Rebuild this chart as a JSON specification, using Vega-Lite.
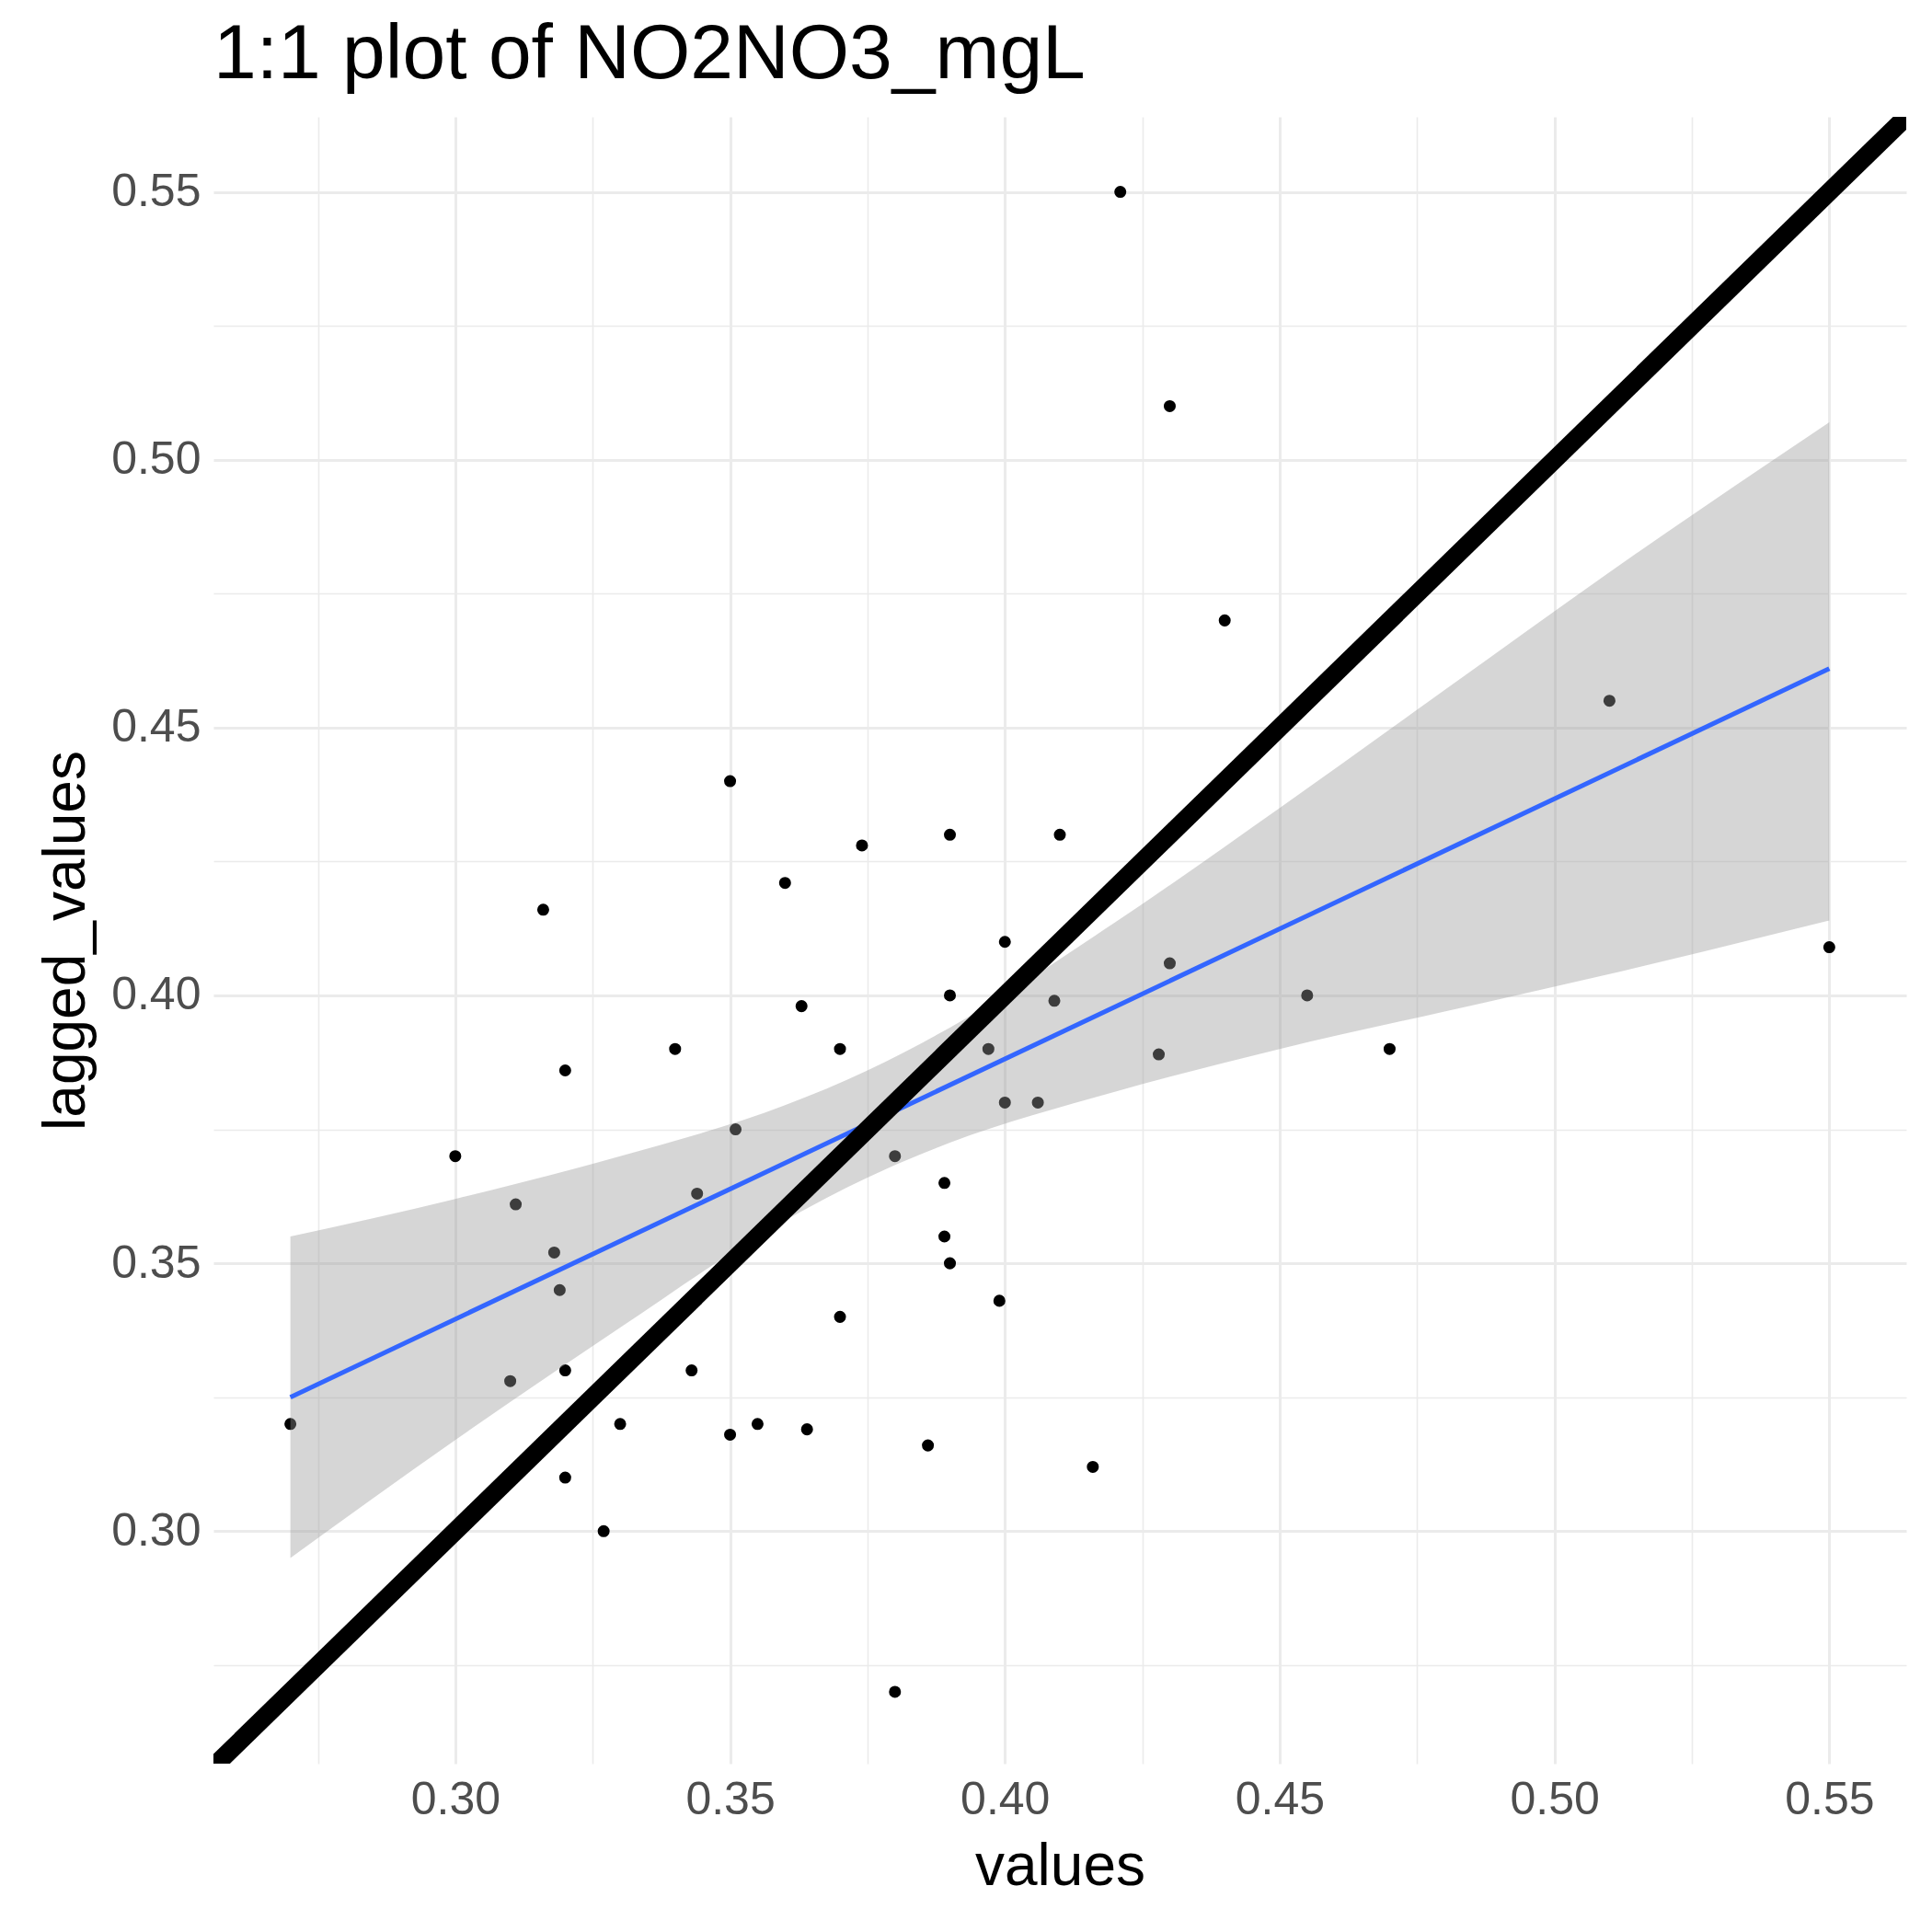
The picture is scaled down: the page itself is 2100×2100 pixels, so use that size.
{
"$schema": "https://vega.github.io/schema/vega-lite/v6.json",
"width": 1840,
"height": 1790,
"padding": {"left": 40, "top": 18, "right": 10, "bottom": 10},
"background": "white",
"title": {"text": "1:1 plot of NO2NO3_mgL", "fontSize": 84, "font": "Liberation Sans", "fontWeight": "normal", "anchor": "start", "frame": "group", "color": "black", "offset": 24},
"config": {
  "view": {"stroke": null},
  "axis": {"domain": false, "ticks": false, "labelFont": "Liberation Sans", "titleFont": "Liberation Sans", "labelFontSize": 50, "labelColor": "#4d4d4d", "titleFontSize": 64, "titleFontWeight": "normal", "titleColor": "black", "gridColor": "#ebebeb", "labelPadding": 14, "titlePadding": 16,
    "gridWidth": {"condition": {"test": "abs(round(datum.value*40) % 2) == 1", "value": 1.6}, "value": 3}}
},
"layer": [
  {
    "data": {"values": [
      {"x":0.421,"y":0.550},{"x":0.430,"y":0.510},{"x":0.440,"y":0.470},{"x":0.510,"y":0.455},
      {"x":0.350,"y":0.440},{"x":0.374,"y":0.428},{"x":0.390,"y":0.430},{"x":0.410,"y":0.430},
      {"x":0.360,"y":0.421},{"x":0.316,"y":0.416},{"x":0.550,"y":0.409},{"x":0.400,"y":0.410},
      {"x":0.430,"y":0.406},{"x":0.390,"y":0.400},{"x":0.409,"y":0.399},{"x":0.455,"y":0.400},
      {"x":0.363,"y":0.398},{"x":0.340,"y":0.390},{"x":0.370,"y":0.390},{"x":0.397,"y":0.390},
      {"x":0.428,"y":0.389},{"x":0.470,"y":0.390},{"x":0.320,"y":0.386},{"x":0.400,"y":0.380},
      {"x":0.406,"y":0.380},{"x":0.351,"y":0.375},{"x":0.300,"y":0.370},{"x":0.380,"y":0.370},
      {"x":0.389,"y":0.365},{"x":0.344,"y":0.363},{"x":0.311,"y":0.361},{"x":0.389,"y":0.355},
      {"x":0.318,"y":0.352},{"x":0.390,"y":0.350},{"x":0.319,"y":0.345},{"x":0.399,"y":0.343},
      {"x":0.370,"y":0.340},{"x":0.343,"y":0.330},{"x":0.320,"y":0.330},{"x":0.310,"y":0.328},
      {"x":0.270,"y":0.320},{"x":0.330,"y":0.320},{"x":0.355,"y":0.320},{"x":0.364,"y":0.319},
      {"x":0.350,"y":0.318},{"x":0.386,"y":0.316},{"x":0.416,"y":0.312},{"x":0.320,"y":0.310},
      {"x":0.327,"y":0.300},{"x":0.380,"y":0.270}
    ]},
    "mark": {"type": "circle", "size": 170, "color": "black", "opacity": 1},
    "encoding": {
      "x": {"field": "x", "type": "quantitative", "title": "values",
        "scale": {"domain": [0.256, 0.564], "nice": false, "zero": false},
        "axis": {"values": [0.275,0.3,0.325,0.35,0.375,0.4,0.425,0.45,0.475,0.5,0.525,0.55], "format": ".2f",
          "labelExpr": "abs(round(datum.value*40) % 2) == 1 ? '' : datum.label"}},
      "y": {"field": "y", "type": "quantitative", "title": "lagged_values",
        "scale": {"domain": [0.2566, 0.564], "nice": false, "zero": false},
        "axis": {"values": [0.275,0.3,0.325,0.35,0.375,0.4,0.425,0.45,0.475,0.5,0.525,0.55], "format": ".2f",
          "labelExpr": "abs(round(datum.value*40) % 2) == 1 ? '' : datum.label"}}
    }
  },
  {
    "data": {"values": [
      {"x":0.27,"lo":0.295,"hi":0.355},{"x":0.30,"lo":0.317,"hi":0.362},{"x":0.33,"lo":0.338,"hi":0.370},
      {"x":0.36,"lo":0.358,"hi":0.3795},{"x":0.375,"lo":0.366,"hi":0.386},{"x":0.39,"lo":0.3725,"hi":0.394},
      {"x":0.42,"lo":0.382,"hi":0.4136},{"x":0.45,"lo":0.390,"hi":0.435},{"x":0.48,"lo":0.397,"hi":0.457},
      {"x":0.51,"lo":0.404,"hi":0.479},{"x":0.55,"lo":0.414,"hi":0.507}
    ]},
    "mark": {"type": "area", "color": "#999999", "opacity": 0.4, "interpolate": "monotone"},
    "encoding": {
      "x": {"field": "x", "type": "quantitative"},
      "y": {"field": "lo", "type": "quantitative"},
      "y2": {"field": "hi"}
    }
  },
  {
    "data": {"values": [{"x":0.27,"y":0.325},{"x":0.55,"y":0.461}]},
    "mark": {"type": "line", "color": "#3366FF", "strokeWidth": 5},
    "encoding": {
      "x": {"field": "x", "type": "quantitative"},
      "y": {"field": "y", "type": "quantitative"}
    }
  },
  {
    "data": {"values": [{"x":0.25,"y":0.25},{"x":0.57,"y":0.57}]},
    "mark": {"type": "line", "color": "black", "strokeWidth": 20, "clip": true},
    "encoding": {
      "x": {"field": "x", "type": "quantitative"},
      "y": {"field": "y", "type": "quantitative"}
    }
  }
]
}
